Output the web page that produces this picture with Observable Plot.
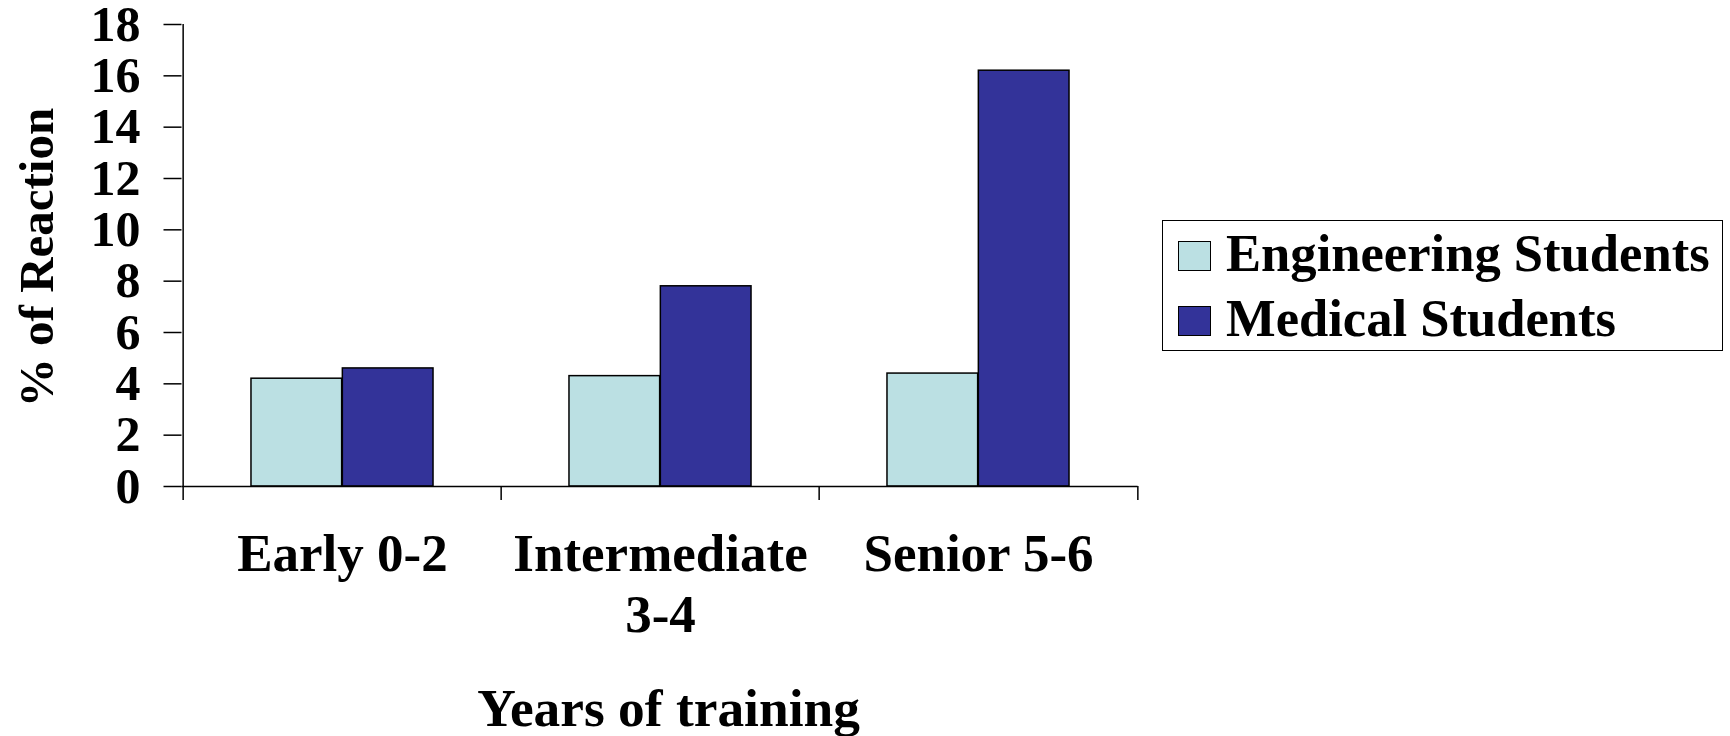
<!DOCTYPE html>
<html>
<head>
<meta charset="utf-8">
<script src="https://cdn.jsdelivr.net/npm/d3@7"></script>
<script src="https://cdn.jsdelivr.net/npm/@observablehq/plot@0.6"></script>
<style>
  body { margin: 0; background: #fff; }
  #chart { position: relative; width: 1730px; height: 736px; }
  .legend {
    position: absolute; left: 1162px; top: 220px; width: 561px; height: 131px;
    box-sizing: border-box; border: 1.5px solid #000;
    font: bold 52.6px "Liberation Serif", "Times New Roman", serif; color: #000;
  }
  .legend .row { display: flex; align-items: baseline; height: 65px; line-height: 65px; white-space: nowrap; }
  .legend .sw { display: inline-block; width: 31px; height: 28px; border: 1.5px solid #000; margin: 0 15px; }
</style>
</head>
<body>
<div id="chart"></div>
<script>
// Share of students reacting, by years of training
const categories = ["Early 0-2", "Intermediate\n3-4", "Senior 5-6"];
const series = ["Engineering Students", "Medical Students"];
const engineering = [4.2, 4.3, 4.4];
const medical = [4.6, 7.8, 16.2];
const colors = ["#BBE0E3", "#333399"];
const yTicks = [0, 2, 4, 6, 8, 10, 12, 14, 16, 18];
const yTitle = "% of Reaction";
const xTitle = "Years of training";

const rows = [
  ...categories.map((c, i) => ({category: c, series: series[0], value: engineering[i]})),
  ...categories.map((c, i) => ({category: c, series: series[1], value: medical[i]}))
];

// Frame layout
const W = 1730, H = 736;
const mL = 181.5, mR = 592.4, mT = 24, mB = 250;
const bw = (W - mL - mR) / categories.length;   // width of one category band

// Position of each series' bar inside its category band
const inner = d3.scaleBand(series, [0, bw]).paddingInner(0).paddingOuter(0.744);

const font = "'Liberation Serif', 'Times New Roman', serif";

const chart = Plot.plot({
  width: W,
  height: H,
  marginLeft: mL,
  marginRight: mR,
  marginTop: mT,
  marginBottom: mB,
  style: {fontFamily: font, fontWeight: "bold", fontSize: "52px", color: "#000", background: "#fff", overflow: "visible"},
  x: {domain: categories, padding: 0, label: null},
  y: {domain: [0, 18], label: null},
  color: {domain: series, range: colors},
  marks: [
    ...series.map(s => Plot.barY(rows.filter(d => d.series === s), {
      x: "category",
      y: "value",
      fill: "series",
      stroke: "#000",
      strokeWidth: 1.5,
      insetLeft: inner(s),
      insetRight: bw - inner(s) - inner.bandwidth()
    })),
    // axis lines
    Plot.ruleY([0], {stroke: "#000", strokeWidth: 1.5}),
    Plot.ruleX([categories[0]], {dx: -bw / 2, stroke: "#000", strokeWidth: 1.5}),
    Plot.axisY({ticks: yTicks, tickSize: 18, tickPadding: 23.5, tickFormat: d => d, fontSize: 50, strokeWidth: 1.5, label: null}),
    // category separators on the x axis
    Plot.axisX({ticks: categories, tickSize: 14, tickFormat: () => "", dx: -bw / 2, strokeWidth: 1.5, label: null}),
    Plot.axisX({ticks: categories.slice(-1), tickSize: 14, tickFormat: () => "", dx: bw / 2, strokeWidth: 1.5, label: null}),
    // category labels
    Plot.text(categories, {x: d => d, text: d => d, frameAnchor: "bottom", lineAnchor: "top", dy: 42, lineHeight: 1.14, fontSize: 53}),
    // axis titles
    Plot.text([xTitle], {text: d => d, frameAnchor: "bottom", lineAnchor: "top", dx: 8.5, dy: 202, fontSize: 53.4}),
    Plot.text([yTitle], {text: d => d, frameAnchor: "left", textAnchor: "middle", rotate: -90, lineAnchor: "top", dx: -164, dy: 2, fontSize: 49})
  ]
});

const root = document.getElementById("chart");
root.appendChild(chart);

// Legend box
const legend = d3.select(root).append("div").attr("class", "legend");
const row = legend.selectAll("div.row").data(series).join("div").attr("class", "row");
row.append("span").attr("class", "sw").style("background", (d, i) => colors[i]);
row.append("span").text(d => d);
</script>
</body>
</html>
